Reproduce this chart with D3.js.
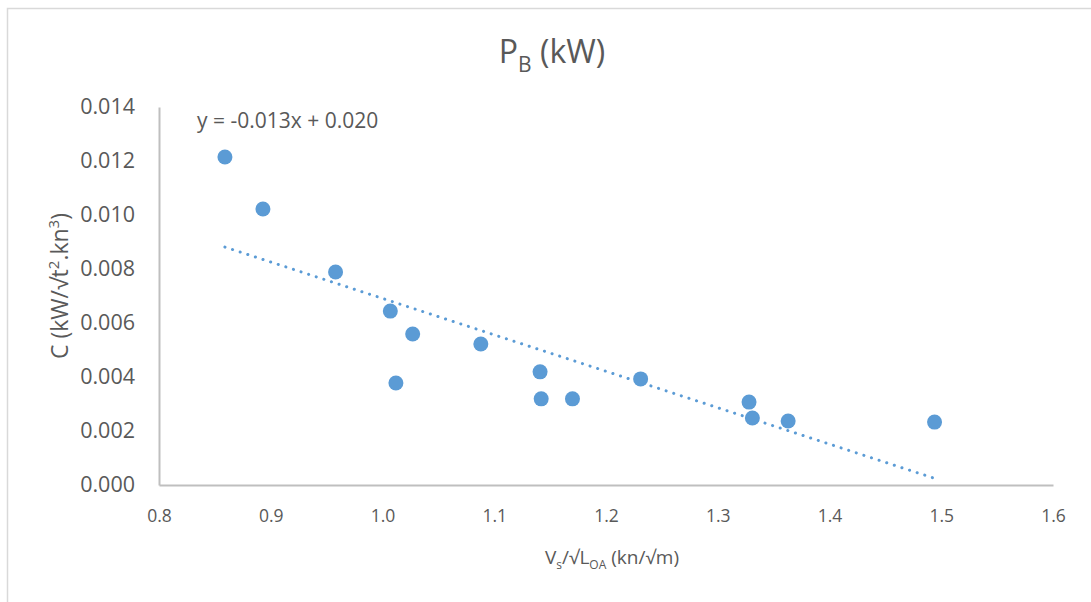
<!DOCTYPE html>
<html>
<head>
<meta charset="utf-8">
<script src="https://cdn.jsdelivr.net/npm/d3@7"></script>
<style>
  html, body { margin: 0; padding: 0; background: #fff; }
  svg { display: block; }
  text { fill: #595959; }
</style>
</head>
<body>
<script>
// Speed-length ratio vs. power coefficient
const speedRatio = [0.859, 0.893, 0.958, 1.007, 1.012, 1.027, 1.088, 1.141, 1.142, 1.170, 1.231, 1.328, 1.331, 1.363, 1.494];
const coefC      = [0.01215, 0.01022, 0.00789, 0.00644, 0.00378, 0.00559, 0.00522, 0.00419, 0.00319, 0.00319, 0.00393, 0.00307, 0.00248, 0.00237, 0.00233];

// Linear trend fit
const trendSlope = -0.01349;
const trendIntercept = 0.02040;

const xTicks = [0.8, 0.9, 1.0, 1.1, 1.2, 1.3, 1.4, 1.5, 1.6];
const yTicks = [0, 0.002, 0.004, 0.006, 0.008, 0.010, 0.012, 0.014];

const W = 1091, H = 602;
const plot = { left: 159, right: 1053, top: 107, bottom: 485 };
const blue = "#5b9bd5";
const font = "'Open Sans', sans-serif";

const svg = d3.select("body").append("svg").attr("width", W).attr("height", H);

// chart frame
svg.append("path")
  .attr("d", `M7.5,${H} V8.5 H${W}`)
  .attr("fill", "none").attr("stroke", "#d9d9d9").attr("stroke-width", 1.5);

const x = d3.scaleLinear().domain([0.8, 1.6]).range([plot.left, plot.right]);
const y = d3.scaleLinear().domain([0, 0.014]).range([plot.bottom, plot.top]);

// axes
const xAxis = svg.append("g").attr("transform", `translate(0,${plot.bottom})`)
  .call(d3.axisBottom(x).tickValues(xTicks).tickFormat(d3.format(".1f")).tickSize(0).tickPadding(25));
const yAxis = svg.append("g").attr("transform", `translate(${plot.left},0)`)
  .call(d3.axisLeft(y).tickValues(yTicks).tickFormat(d3.format(".3f")).tickSize(0).tickPadding(24));
[xAxis, yAxis].forEach(g => {
  g.select(".domain").attr("stroke", "#bfbfbf").attr("stroke-width", 2);
  g.selectAll("text").attr("font-family", font).attr("fill", "#595959");
});
xAxis.selectAll("text").attr("font-size", 17.5);
yAxis.selectAll("text").attr("font-size", 21.5);

// trendline
const xr = d3.extent(speedRatio);
const trend = d3.line().x(d => x(d)).y(d => y(trendIntercept + trendSlope * d));
svg.append("path")
  .datum(xr)
  .attr("d", trend)
  .attr("fill", "none").attr("stroke", blue).attr("stroke-width", 3)
  .attr("stroke-linecap", "round").attr("stroke-dasharray", "0.1 7.9");

// points
svg.append("g").selectAll("circle")
  .data(d3.zip(speedRatio, coefC))
  .join("circle")
  .attr("cx", d => x(d[0])).attr("cy", d => y(d[1]))
  .attr("r", 7.5).attr("fill", blue);

// trend equation
const fmt = v => v.toFixed(3);
svg.append("text")
  .attr("x", 197).attr("y", 128)
  .attr("font-family", font).attr("font-size", 21)
  .text(`y = ${fmt(trendSlope)}x + ${fmt(trendIntercept)}`);

// title
const title = svg.append("text")
  .attr("x", 552).attr("y", 63).attr("text-anchor", "middle")
  .attr("font-family", font).attr("font-size", 32);
title.append("tspan").text("P");
title.append("tspan").attr("font-size", 21).attr("dy", 9).text("B");
title.append("tspan").attr("dy", -9).text(" (kW)");

// y-axis title
const yt = svg.append("text")
  .attr("transform", "translate(68,286) rotate(-90)").attr("text-anchor", "middle")
  .attr("font-family", font).attr("font-size", 23);
yt.append("tspan").text("C (kW/√t");
yt.append("tspan").attr("font-size", 15).attr("dy", -9).text("2");
yt.append("tspan").attr("dy", 9).text(".kn");
yt.append("tspan").attr("font-size", 15).attr("dy", -9).text("3");
yt.append("tspan").attr("dy", 9).text(")");

// x-axis title
const xt = svg.append("text")
  .attr("x", 612).attr("y", 564).attr("text-anchor", "middle")
  .attr("font-family", font).attr("font-size", 19);
xt.append("tspan").text("V");
xt.append("tspan").attr("font-size", 12).attr("dy", 5).text("s");
xt.append("tspan").attr("dy", -5).text("/√L");
xt.append("tspan").attr("font-size", 12).attr("dy", 5).text("OA");
xt.append("tspan").attr("dy", -5).text(" (kn/√m)");
</script>
</body>
</html>
